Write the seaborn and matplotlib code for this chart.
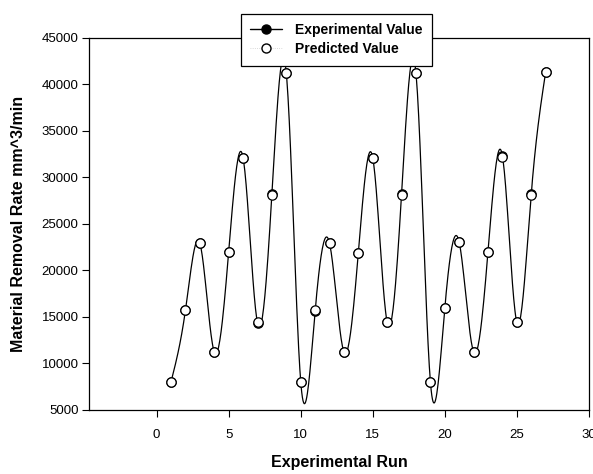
import numpy as np
import pandas as pd
import matplotlib
matplotlib.use('Agg')
import matplotlib.pyplot as plt
import seaborn as sns
from matplotlib.lines import Line2D

# Experimental runs and material removal rate (mm^3/min)
runs = [1, 2, 3, 4, 5, 6, 7, 8, 9, 10, 11, 12, 13, 14, 15, 16, 17, 18, 19, 20,
        21, 22, 23, 24, 25, 26, 27]
experimental = [8000, 15700, 22900, 11200, 22000, 32100, 14300, 28200, 41200,
                8000, 15600, 22900, 11200, 21900, 32100, 14400, 28200, 41200,
                8000, 15900, 23000, 11200, 22000, 32300, 14400, 28200, 41300]
predicted = [8000, 15700, 22900, 11200, 22000, 32100, 14400, 28100, 41200,
             8000, 15700, 22900, 11200, 21900, 32100, 14400, 28100, 41200,
             8000, 15900, 23000, 11200, 22000, 32200, 14400, 28100, 41300]
x_ticks = [0, 5, 10, 15, 20, 25, 30]
y_ticks = [5000, 10000, 15000, 20000, 25000, 30000, 35000, 40000, 45000]


def natural_spline(x, y, n=600):
    # smooth curve through the points (natural cubic spline)
    x = np.asarray(x, float)
    y = np.asarray(y, float)
    k = len(x)
    h = np.diff(x)
    A = np.zeros((k, k))
    b = np.zeros(k)
    A[0, 0] = A[-1, -1] = 1
    for i in range(1, k - 1):
        A[i, i - 1] = h[i - 1]
        A[i, i] = 2 * (h[i - 1] + h[i])
        A[i, i + 1] = h[i]
        b[i] = 3 * ((y[i + 1] - y[i]) / h[i] - (y[i] - y[i - 1]) / h[i - 1])
    c = np.linalg.solve(A, b)
    xs = np.linspace(x[0], x[-1], n)
    idx = np.clip(np.searchsorted(x, xs) - 1, 0, k - 2)
    dx = xs - x[idx]
    bb = (y[idx + 1] - y[idx]) / h[idx] - h[idx] * (2 * c[idx] + c[idx + 1]) / 3
    dd = (c[idx + 1] - c[idx]) / (3 * h[idx])
    ys = y[idx] + bb * dx + c[idx] * dx ** 2 + dd * dx ** 3
    return xs, ys


sns.set_style('ticks')
plt.rcParams['font.family'] = ['Liberation Sans', 'DejaVu Sans']
plt.rcParams['text.color'] = 'black'
plt.rcParams['axes.labelcolor'] = 'black'

fig = plt.figure(figsize=(5.93, 4.74), dpi=100)
ax = fig.add_axes([0.150, 0.136, 0.843, 0.784])

xs, ys = natural_spline(runs, experimental)
curve = pd.DataFrame({'x': xs, 'y': ys})
sns.lineplot(data=curve, x='x', y='y', color='black', linewidth=0.9, ax=ax,
             sort=False, estimator=None)
sns.scatterplot(x=runs, y=experimental, color='black', edgecolor='black',
                s=45, linewidth=0.9, ax=ax, zorder=3)
sns.scatterplot(x=runs, y=predicted, color='white', edgecolor='black',
                s=45, linewidth=0.9, ax=ax, zorder=4)

ax.set_xlim(-4.7, 30)
ax.set_ylim(5000, 45000)
ax.set_xticks(x_ticks)
ax.set_yticks(y_ticks)
ax.tick_params(direction='out', length=5, width=0.8, labelsize=9.5,
               top=False, right=False, colors='black')
ax.tick_params(axis='x', pad=9)
ax.tick_params(axis='y', pad=2.5)
for s in ax.spines.values():
    s.set_visible(True)
    s.set_color('black')
    s.set_linewidth(0.9)

ax.set_xlabel('Experimental Run', fontsize=11.5, fontweight='bold', labelpad=10)
ax.set_ylabel('Material Removal Rate mm^3/min', fontsize=11.5,
              fontweight='bold', labelpad=11)

handles = [
    Line2D([0], [0], color='black', lw=1, marker='o', markersize=6.5,
           markerfacecolor='black', markeredgecolor='black'),
    Line2D([0], [0], color='#cccccc', lw=0.6, ls=':', marker='o', markersize=6.5,
           markerfacecolor='white', markeredgecolor='black'),
]
leg = fig.legend(handles, ['Experimental Value', 'Predicted Value'],
                 loc='upper center', bbox_to_anchor=(0.567, 0.986),
                 frameon=True, fancybox=False, framealpha=1, edgecolor='black',
                 prop={'weight': 'bold', 'size': 10}, handlelength=2.3,
                 borderpad=0.7, labelspacing=0.35, handletextpad=0.9)
leg.get_frame().set_linewidth(0.9)
leg.set_zorder(10)

fig.savefig('out.png', dpi=100)
